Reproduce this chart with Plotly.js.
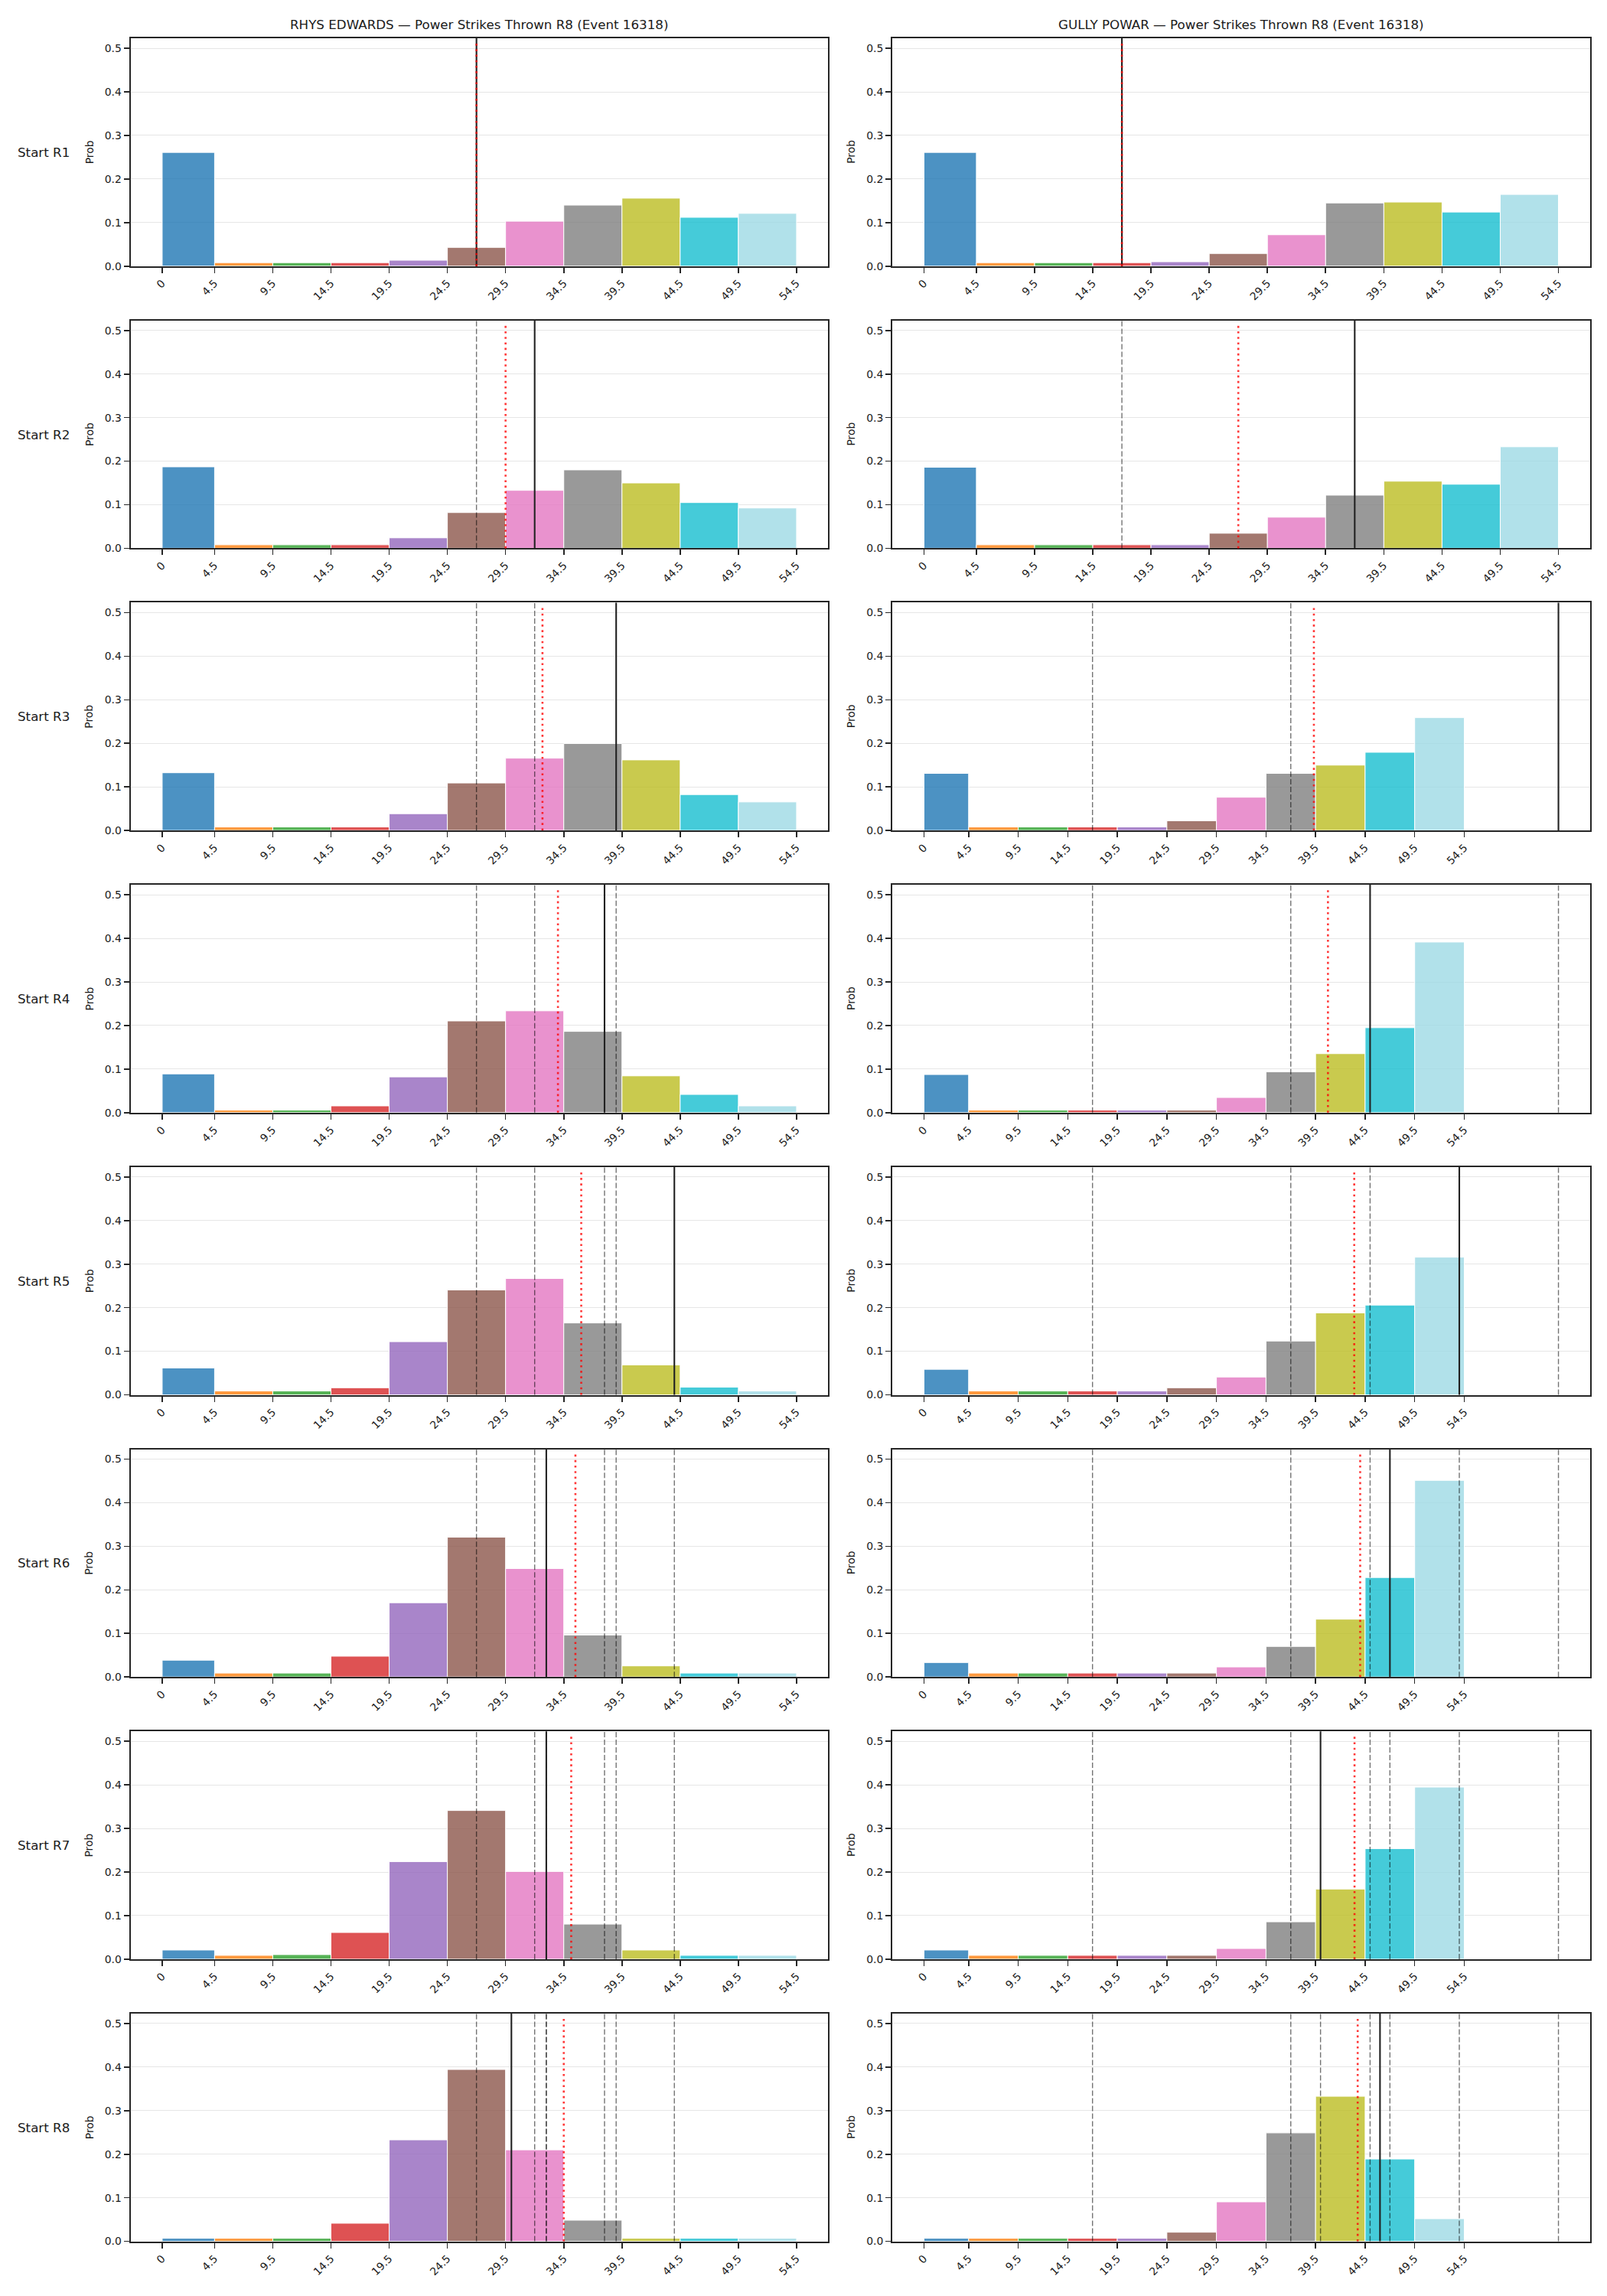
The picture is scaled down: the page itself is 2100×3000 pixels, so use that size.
<!DOCTYPE html>
<html>
<head>
<meta charset="utf-8">
<script src="https://cdn.plot.ly/plotly-3.0.1.min.js"></script>
<style>
  html, body { margin: 0; padding: 0; background: #ffffff; }
  #chart { width: 2100px; height: 3000px; }
</style>
</head>
<body>
<div id="chart"></div>
<script>
// ---- data ---------------------------------------------------------------
const binEdges = [0, 4.5, 9.5, 14.5, 19.5, 24.5, 29.5, 34.5, 39.5, 44.5, 49.5, 54.5];
const tickLabels = ['0', '4.5', '9.5', '14.5', '19.5', '24.5', '29.5', '34.5', '39.5', '44.5', '49.5', '54.5'];
const roundLabels = ['Start R1', 'Start R2', 'Start R3', 'Start R4', 'Start R5', 'Start R6', 'Start R7', 'Start R8'];
const fighterNames = ['RHYS EDWARDS', 'GULLY POWAR'];

// probability per bin, one row per starting round
const rhysProbs = [
  [0.261, 0.008, 0.008, 0.008, 0.0135, 0.043, 0.103, 0.140, 0.156, 0.112, 0.121],
  [0.187, 0.008, 0.008, 0.008, 0.024, 0.082, 0.133, 0.180, 0.150, 0.105, 0.0925],
  [0.1325, 0.008, 0.008, 0.008, 0.0385, 0.109, 0.166, 0.1995, 0.162, 0.0824, 0.0655],
  [0.089, 0.006, 0.006, 0.0155, 0.082, 0.2105, 0.2337, 0.1865, 0.0844, 0.0418, 0.0155],
  [0.0617, 0.009, 0.009, 0.0162, 0.122, 0.2407, 0.267, 0.165, 0.0687, 0.0177, 0.009],
  [0.0386, 0.009, 0.009, 0.0478, 0.1705, 0.321, 0.249, 0.0965, 0.0255, 0.009, 0.009],
  [0.021, 0.0088, 0.0105, 0.0613, 0.224, 0.3413, 0.2013, 0.0805, 0.021, 0.0088, 0.0088],
  [0.007, 0.007, 0.007, 0.0416, 0.233, 0.3946, 0.210, 0.0486, 0.007, 0.007, 0.007]
];
const gullyProbs = [
  [0.261, 0.008, 0.008, 0.008, 0.010, 0.029, 0.072, 0.145, 0.147, 0.124, 0.1645],
  [0.186, 0.008, 0.008, 0.008, 0.008, 0.0345, 0.0714, 0.122, 0.154, 0.147, 0.233],
  [0.131, 0.008, 0.008, 0.008, 0.008, 0.0223, 0.0763, 0.131, 0.150, 0.1795, 0.259],
  [0.0875, 0.006, 0.006, 0.006, 0.006, 0.006, 0.0348, 0.0937, 0.1354, 0.195, 0.3916],
  [0.0586, 0.009, 0.009, 0.009, 0.009, 0.0162, 0.0409, 0.1235, 0.188, 0.206, 0.316],
  [0.0332, 0.009, 0.009, 0.009, 0.009, 0.009, 0.0231, 0.0702, 0.1327, 0.2284, 0.4514],
  [0.021, 0.0088, 0.0088, 0.0088, 0.0088, 0.0088, 0.0245, 0.0858, 0.161, 0.2538, 0.395],
  [0.007, 0.007, 0.007, 0.007, 0.007, 0.021, 0.0907, 0.249, 0.333, 0.189, 0.052]
];

// marker value at each round (solid line; earlier rounds shown dashed)
const rhysMarks = [27, 32, 39, 38, 44, 33, 33, 30];
const gullyMarks = [17, 37, 64, 45, 54, 47, 40, 46];
// running average of the round markers (dotted red line)
const rhysAvg = [27, 29.5, 32.67, 34, 36, 35.5, 35.14, 34.5];
const gullyAvg = [17, 27, 39.33, 40.75, 43.4, 44, 43.43, 43.75];

// ---- style ----------------------------------------------------------------
const palette = ['#1f77b4', '#ff7f0e', '#2ca02c', '#d62728', '#9467bd', '#8c564b',
                 '#e377c2', '#7f7f7f', '#bcbd22', '#17becf', '#9edae5'];
function withAlpha(hex, a) {
  const n = parseInt(hex.slice(1), 16);
  return `rgba(${(n >> 16) & 255},${(n >> 8) & 255},${n & 255},${a})`;
}
const barColors = palette.map(c => withAlpha(c, 0.8));

const W = 2100, H = 3000;
const FONT = 'DejaVu Sans, Liberation Sans, sans-serif';
const TXT = '#1a1a1a';
const SPINE = '#262626';
const colLeft = [170.5, 1166];
const colRight = [1082.4, 2078];
const rowTop0 = 50, rowPitch = 368.7, rowHeight = 297.7;
const yTop = 0.523;

const probs = [rhysProbs, gullyProbs];
const marks = [rhysMarks, gullyMarks];
const avgs = [rhysAvg, gullyAvg];

const binLefts = binEdges.slice(0, -1);
const binWidths = binEdges.slice(1).map((e, i) => e - binEdges[i]);

const data = [];
const layout = {
  width: W, height: H, autosize: false,
  margin: {l: 0, r: 0, t: 0, b: 0},
  paper_bgcolor: '#ffffff', plot_bgcolor: '#ffffff',
  showlegend: false,
  font: {family: FONT, color: TXT, size: 14},
  shapes: [], annotations: []
};

for (let r = 0; r < 8; r++) {
  for (let c = 0; c < 2; c++) {
    const n = r * 2 + c + 1;
    const xa = n === 1 ? 'xaxis' : 'xaxis' + n;
    const ya = n === 1 ? 'yaxis' : 'yaxis' + n;
    const xr = n === 1 ? 'x' : 'x' + n;
    const yr = n === 1 ? 'y' : 'y' + n;

    const top = rowTop0 + r * rowPitch;
    const bottom = top + rowHeight;

    // x limits follow the data extent (bins plus every marker drawn so far), 5% padding
    const shown = marks[c].slice(0, r + 1);
    const lo = Math.min(binEdges[0], ...shown);
    const hi = Math.max(binEdges[binEdges.length - 1], ...shown);
    const pad = (hi - lo) * 0.05;

    layout[xa] = {
      domain: [colLeft[c] / W, colRight[c] / W],
      anchor: yr,
      range: [lo - pad, hi + pad],
      tickmode: 'array', tickvals: binEdges, ticktext: tickLabels,
      tickangle: -45,
      ticks: 'outside', ticklen: 7, tickwidth: 1.6, tickcolor: SPINE,
      tickfont: {family: FONT, size: 13.9, color: TXT},
      showgrid: false, zeroline: false,
      showline: true, mirror: true, linecolor: SPINE, linewidth: 2
    };
    layout[ya] = {
      domain: [1 - bottom / H, 1 - top / H],
      anchor: xr,
      range: [0, yTop],
      tickmode: 'array', tickvals: [0, 0.1, 0.2, 0.3, 0.4, 0.5],
      ticktext: ['0.0', '0.1', '0.2', '0.3', '0.4', '0.5'],
      ticks: 'outside', ticklen: 7, tickwidth: 1.6, tickcolor: SPINE,
      tickfont: {family: FONT, size: 13.9, color: TXT},
      showgrid: true, gridcolor: '#e6e6e6', gridwidth: 1,
      zeroline: false,
      showline: true, mirror: true, linecolor: SPINE, linewidth: 2
    };

    data.push({
      type: 'bar',
      x: binLefts, y: probs[c][r],
      width: binWidths, offset: 0,
      xaxis: xr, yaxis: yr,
      marker: {color: barColors, line: {color: '#ffffff', width: 1}},
      hoverinfo: 'x+y'
    });

    // earlier rounds' markers
    for (let k = 0; k < r; k++) {
      layout.shapes.push({
        type: 'line', xref: xr, yref: yr + ' domain',
        x0: marks[c][k], x1: marks[c][k], y0: 0, y1: 1,
        line: {color: 'rgba(0,0,0,0.55)', width: 1.4, dash: '7px,3px'}
      });
    }
    // current round marker
    layout.shapes.push({
      type: 'line', xref: xr, yref: yr + ' domain',
      x0: marks[c][r], x1: marks[c][r], y0: 0, y1: 1,
      line: {color: '#222222', width: 2.1}
    });
    // running average
    layout.shapes.push({
      type: 'line', xref: xr, yref: yr + ' domain',
      x0: avgs[c][r], x1: avgs[c][r], y0: 0, y1: 0.985,
      line: {color: 'rgba(255,0,0,0.78)', width: 2.6, dash: '2.6px,4.6px'}
    });

    const midY = 1 - (top + rowHeight / 2) / H;
    layout.annotations.push({
      xref: 'paper', yref: 'paper',
      x: (colLeft[c] - 54) / W, y: midY,
      text: 'Prob', textangle: -90, showarrow: false,
      xanchor: 'center', yanchor: 'middle',
      font: {family: FONT, size: 13.9, color: TXT}
    });
    if (c === 0) {
      layout.annotations.push({
        xref: 'paper', yref: 'paper',
        x: 57 / W, y: midY,
        text: roundLabels[r], showarrow: false,
        xanchor: 'center', yanchor: 'middle',
        font: {family: FONT, size: 16.7, color: TXT}
      });
    }
  }
}

for (let c = 0; c < 2; c++) {
  layout.annotations.push({
    xref: 'paper', yref: 'paper',
    x: (colLeft[c] + colRight[c]) / 2 / W, y: 1 - 31.7 / H,
    text: fighterNames[c] + ' — Power Strikes Thrown R8 (Event 16318)',
    showarrow: false, xanchor: 'center', yanchor: 'middle',
    font: {family: FONT, size: 16.7, color: TXT}
  });
}

Plotly.newPlot('chart', data, layout, {staticPlot: true, displayModeBar: false});
</script>
</body>
</html>
